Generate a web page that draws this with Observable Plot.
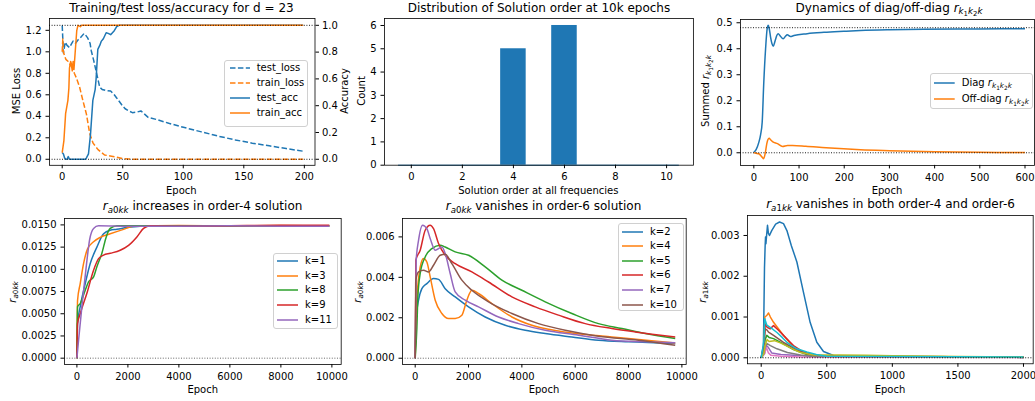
<!DOCTYPE html>
<html><head><meta charset="utf-8">
<script src="https://cdn.jsdelivr.net/npm/d3@7"></script>
<script src="https://cdn.jsdelivr.net/npm/@observablehq/plot@0.6"></script>
<style>
html,body{margin:0;padding:0;background:#fff;}
#fig{position:relative;width:1035px;height:401px;overflow:hidden;font-family:"DejaVu Sans",sans-serif;color:#000;background:#fff;}
#fig svg{position:absolute;overflow:visible;}
.t{position:absolute;line-height:1;white-space:nowrap;}
sub{font-size:0.72em;vertical-align:-0.3em;line-height:0;}
sub sub{font-size:0.8em;}
.leg{position:absolute;border:1px solid #d0d0d0;border-radius:3px;background:rgba(255,255,255,0.8);box-sizing:border-box;}
</style></head><body><div id="fig"></div><script>
// ---------- data ----------
// Panel 1: loss / accuracy vs epoch (d = 23)
const testLoss = [[0,1.245],[1,0.99],[2.5,1.09],[4,1.06],[6,1.04],[8,1.08],[9,1.1],[11,1.08],[13,1.11],[15,1.13],[18,1.17],[19,1.16],[21,1.13],[23,1.08],[24,1.01],[26,0.92],[28,0.82],[30,0.72],[31,0.67],[33,0.65],[36,0.64],[40,0.635],[43,0.6],[45,0.57],[49,0.51],[52,0.47],[55,0.45],[58,0.434],[62,0.44],[65,0.45],[68,0.42],[71,0.39],[78,0.37],[88,0.335],[101,0.295],[115,0.255],[129,0.215],[143,0.18],[157,0.15],[171,0.125],[185,0.1],[199,0.075]];
const trainLoss = [[0,1.0],[0.5,1.12],[1,1.0],[2,0.96],[3,0.93],[5,0.91],[7,0.87],[8,0.9],[9,0.84],[10,0.8],[11.6,0.76],[14.4,0.67],[17,0.55],[20,0.42],[22.7,0.24],[25.5,0.15],[29.6,0.09],[35,0.04],[40.7,0.028],[45,0.02],[50,0.006],[55,0.002],[60,0.001],[199,0]];
const testAcc = [[0,0.05],[1,0.04],[2,0.01],[3,0],[4,0],[5,0.02],[6,0],[19,0],[20,0.01],[21.7,0.04],[23.4,0.19],[25.3,0.44],[27.2,0.52],[28,0.6],[29.4,0.82],[31,0.85],[32.2,0.88],[34,0.9],[36.3,0.945],[38,0.94],[40,0.93],[43,0.96],[45,0.99],[47,1.0],[199,1.0]];
const trainAcc = [[0,0.05],[1.4,0.14],[2.8,0.34],[4.7,0.44],[5.5,0.53],[6,0.68],[7,0.73],[7.5,0.71],[8.3,0.66],[9,0.73],[9.7,0.67],[10.8,0.81],[12,0.96],[13,1.0],[15,0.99],[16,1.0],[199,1.0]];
// Panel 2: histogram of solution order
const orders = [0,1,2,3,4,5,6,7,8,9,10];
const counts = [0,0,0,0,5,0,6,0,0,0,0];
// Panel 3: summed r_{k1k2k}
const diagR = [[0,0.002],[5,0.012],[11,0.04],[15,0.07],[18.5,0.118],[22,0.27],[26,0.4],[29.5,0.477],[31.9,0.49],[34,0.478],[37,0.445],[40,0.42],[43,0.41],[47,0.43],[51,0.452],[54,0.458],[58,0.45],[65,0.438],[70,0.448],[74,0.454],[81,0.447],[88.6,0.451],[118,0.458],[155,0.463],[199,0.467],[236,0.47],[300,0.473],[376,0.475],[500,0.476],[600,0.477]];
const offDiagR = [[0,0],[5,-0.002],[11,-0.004],[18.5,-0.017],[21.5,-0.023],[25,-0.004],[28.7,0.035],[31,0.05],[33.9,0.056],[37,0.05],[41.3,0.043],[52.4,0.035],[63.5,0.024],[74.6,0.028],[85.6,0.028],[115,0.025],[160,0.019],[236,0.0115],[300,0.008],[400,0.004],[500,0.002],[600,0.001]];
// Panel 4: r_a0kk (x1e-3) in order-4 solution
const a0k1 = [[0,0],[26,3.9],[130,5.8],[327,8.4],[523,10.65],[784,12.5],[1046,14.0],[1307,14.4],[1569,14.5],[1961,14.7],[2484,14.85],[4000,14.9],[6000,14.88],[8000,14.9],[9900,14.85]];
const a0k3 = [[0,0],[26,6.5],[130,8.4],[261,10.65],[418,12.3],[654,13.1],[915,13.6],[1307,14.0],[1830,14.5],[2222,14.85],[4000,14.92],[6000,14.9],[8000,14.92],[9900,14.88]];
const a0k8 = [[0,0],[26,5.8],[130,6.15],[327,7.65],[458,8.6],[654,9.15],[784,10.3],[980,11.8],[1150,13.65],[1307,14.6],[1569,14.9],[4000,14.88],[6000,14.9],[8000,14.88],[9900,14.9]];
const a0k9 = [[0,0],[26,3.9],[130,5.0],[392,7.3],[654,9.9],[850,11.2],[1046,11.6],[1307,11.8],[1699,12.15],[2026,12.7],[2353,13.65],[2614,14.6],[2876,14.9],[4000,14.85],[6000,14.9],[8000,14.95],[9900,14.95]];
const a0k11 = [[0,0],[65,2.0],[196,5.8],[366,10.3],[497,13.3],[654,14.6],[850,14.9],[2000,14.85],[4000,14.85],[6000,14.9],[8000,14.85],[9900,14.85]];
// Panel 5: r_a0kk (x1e-3) in order-6 solution
const b0k2 = [[0,0],[37,2.04],[125,2.87],[250,3.44],[437,3.69],[687,3.94],[875,3.9],[1125,3.44],[1500,3.03],[2000,2.54],[2625,2.04],[3375,1.63],[4125,1.38],[4875,1.22],[5875,1.05],[6875,0.89],[8000,0.81],[9750,0.73]];
const b0k4 = [[0,0],[62,2.87],[187,4.5],[312,4.93],[437,4.76],[562,4.02],[750,2.87],[1000,2.21],[1250,1.96],[1500,1.96],[1750,2.13],[1937,2.87],[2125,3.36],[2375,3.2],[2875,2.7],[3625,2.04],[4375,1.63],[5375,1.35],[6375,1.17],[7375,1.05],[8375,0.92],[9750,0.75]];
const b0k5 = [[0,0],[62,1.47],[100,3.03],[187,4.19],[375,5.01],[625,5.42],[937,5.59],[1125,5.5],[1500,5.26],[2000,5.09],[2625,4.52],[3250,3.86],[4000,3.36],[4875,2.79],[5875,2.21],[6875,1.71],[7750,1.47],[8625,1.22],[9750,0.97]];
const b0k6 = [[0,0],[25,4.85],[187,5.34],[375,6.33],[562,6.58],[687,6.41],[875,5.67],[1125,5.09],[1500,4.68],[2125,4.27],[2750,3.77],[3625,3.03],[4500,2.54],[5375,2.13],[6375,1.71],[7375,1.47],[8250,1.3],[9750,1.05]];
const b0k7 = [[0,0],[37,4.85],[125,5.83],[275,6.58],[437,6.41],[562,5.92],[750,5.34],[1000,5.5],[1125,5.18],[1312,4.19],[1500,3.28],[1875,2.87],[2375,2.54],[3125,2.04],[3875,1.71],[4875,1.38],[6125,1.14],[7375,0.89],[8625,0.81],[9750,0.76]];
const b0k10 = [[0,0],[25,3.86],[125,4.27],[312,4.35],[500,4.27],[687,4.6],[937,5.09],[1125,5.14],[1375,4.68],[1750,3.86],[2125,3.36],[2750,2.79],[3625,2.21],[4625,1.71],[5625,1.38],[6875,1.09],[8375,0.89],[9750,0.64]];
// Panel 6: r_a1kk (x1e-3)
const c1 = [[0,0.02],[17,0.3],[25,2.2],[30,2.75],[33,2.96],[36,2.8],[40,2.96],[48,3.25],[55,3.05],[63,3.0],[80,3.12],[110,3.28],[140,3.33],[170,3.29],[196,3.12],[230,2.75],[272,2.35],[322,1.61],[373,0.87],[424,0.38],[475,0.155],[551,0.056],[600,0.02],[1000,0.016],[2000,0.016]];
const c2 = [[0,0],[20,0.2],[28,1.0],[35,1.02],[45,1.05],[56,1.1],[70,1.0],[94,0.87],[130,0.72],[170,0.55],[210,0.4],[246,0.26],[280,0.18],[322,0.13],[398,0.07],[500,0.04],[700,0.04],[1000,0.03],[2000,0.02]];
const c3 = [[0,0],[20,0.15],[30,0.45],[43,0.55],[60,0.5],[94,0.47],[170,0.34],[246,0.2],[348,0.08],[450,0.03],[2000,0.01]];
const c4 = [[0,0],[20,0.3],[30,0.83],[45,0.75],[69,0.71],[94,0.79],[130,0.68],[170,0.55],[210,0.42],[246,0.3],[322,0.14],[400,0.06],[500,0.03],[2000,0.02]];
const c5 = [[0,0],[25,0.1],[40,0.3],[55,0.25],[80,0.12],[150,0.08],[250,0.06],[400,0.03],[2000,0.01]];
const c6 = [[0,0],[20,0.2],[30,0.71],[45,0.68],[56,0.63],[94,0.55],[170,0.38],[246,0.24],[322,0.12],[400,0.05],[2000,0.015]];
const c7 = [[0,0],[25,0.1],[40,0.25],[55,0.12],[75,0.06],[150,0.04],[300,0.02],[2000,0.005]];
const c8 = [[0,0],[20,0.1],[30,0.3],[45,0.35],[70,0.3],[120,0.22],[200,0.13],[300,0.07],[400,0.03],[2000,0.01]];
const c9 = [[0,0],[20,0.1],[30,0.3],[45,0.45],[60,0.4],[100,0.42],[150,0.36],[200,0.28],[250,0.2],[300,0.13],[400,0.07],[600,0.07],[800,0.06],[1000,0.05],[1500,0.03],[2000,0.02]];
const c10 = [[0,0],[20,0.4],[27,0.96],[43,0.8],[80,0.72],[120,0.62],[160,0.5],[196,0.38],[230,0.3],[272,0.22],[348,0.14],[420,0.08],[500,0.04],[2000,0.02]];

// ---------- drawing ----------
const fig = document.getElementById("fig");
const C = {blue:"#1f77b4",orange:"#ff7f0e",green:"#2ca02c",red:"#d62728",purple:"#9467bd",brown:"#8c564b",pink:"#e377c2",gray:"#7f7f7f",olive:"#bcbd22",cyan:"#17becf"};
const STYLE = {fontFamily:'"DejaVu Sans", sans-serif', fontSize:"10px", color:"#000", background:"transparent", overflow:"visible"};
const AX = {tickSize:3.5, tickPadding:4.5, label:null};
const XF = d => String(d);
const DASH = "5.5,2.4";
const ACC = 1.2465; // accuracy -> loss-axis factor

function panel(frame, xd, yd, marks){
  const [fl,ft,fr,fb] = frame;
  const ml=60, mr=45, mt=8, mb=36;
  const svg = Plot.plot({width: fr-fl+ml+mr, height: fb-ft+mt+mb, marginLeft:ml, marginRight:mr, marginTop:mt, marginBottom:mb,
    x:{domain:xd, nice:false}, y:{domain:yd, nice:false}, style:STYLE, marks});
  svg.style.left = (fl-ml)+"px"; svg.style.top = (ft-mt)+"px";
  fig.append(svg);
}
const line = (data, color, o={}) => Plot.line(data, {x:d=>d[0], y:d=>d[1]*(o.k??1), stroke:color, strokeWidth:1.5, clip:true,
  curve:o.curve??"linear", strokeDasharray:o.dash, strokeLinejoin:"round", strokeLinecap:"butt"});
const dotted = (vals, color="#000") => Plot.ruleY(vals, {stroke:color, strokeWidth:0.9, strokeDasharray:"1,1.6"});
const frameM = () => Plot.frame({stroke:"#000", strokeWidth:0.8});

function text(html, cx, cy, size=10, rot=0){
  const d = document.createElement("div"); d.className="t"; d.innerHTML=html;
  d.style.left=cx+"px"; d.style.top=cy+"px"; d.style.fontSize=size+"px";
  d.style.transform=`translate(-50%,-50%) rotate(${rot}deg)`;
  fig.append(d);
}
function legend(box, rows, sx, tx, items){
  const d = document.createElement("div"); d.className="leg";
  Object.assign(d.style,{left:box[0]+"px",top:box[1]+"px",width:(box[2]-box[0])+"px",height:(box[3]-box[1])+"px"});
  fig.append(d);
  items.forEach(([label,color,dash],i)=>{
    const y=rows[i];
    const s=document.createElementNS("http://www.w3.org/2000/svg","svg");
    s.setAttribute("width",sx[1]-sx[0]); s.setAttribute("height",6);
    s.style.left=sx[0]+"px"; s.style.top=(y-3)+"px";
    s.innerHTML=`<line x1="0" x2="${sx[1]-sx[0]}" y1="3" y2="3" stroke="${color}" stroke-width="1.5" ${dash?`stroke-dasharray="${dash}"`:""}/>`;
    fig.append(s);
    const t=document.createElement("div"); t.className="t"; t.innerHTML=label;
    t.style.left=tx+"px"; t.style.top=y+"px"; t.style.fontSize="10px"; t.style.transform="translateY(-50%)";
    fig.append(t);
  });
}
const R = (sub) => `<i>r</i><sub>${sub}</sub>`;
const RK = R(`<i>k</i><sub>1</sub><i>k</i><sub>2</sub><i>k</i>`);

// Panel 1
panel([48.5,17.5,314,164.3],[-10.5,208.8],[-0.056,1.31],[
  line(testLoss,C.blue,{dash:DASH}), line(trainLoss,C.orange,{dash:DASH}),
  line(testAcc,C.blue,{k:ACC}), line(trainAcc,C.orange,{k:ACC}),
  dotted([ACC,0]),
  Plot.axisX([0,50,100,150,200],{...AX, tickFormat:XF}),
  Plot.axisY([0,0.2,0.4,0.6,0.8,1.0,1.2],{...AX, tickFormat:d=>d.toFixed(1)}),
  Plot.axisY([0,0.2,0.4,0.6,0.8,1.0].map(a=>a*ACC),{...AX, anchor:"right", tickPadding:3.5, tickFormat:d=>(d/ACC).toFixed(1)}),
  frameM()
]);
// Panel 2
const bars = orders.map((o,i)=>({o, c:counts[i]}));
panel([383.9,18,692.8,164.7],[-1.05,11.05],[0,6.3],[
  Plot.rect(bars,{x1:d=>d.o-0.5, x2:d=>d.o+0.5, y1:0, y2:d=>d.c, fill:C.blue}),
  Plot.ruleY([0],{x1:-0.5,x2:10.5,stroke:C.blue,strokeWidth:1}),
  Plot.axisX([0,2,4,6,8,10],{...AX, tickFormat:XF}),
  Plot.axisY([0,1,2,3,4,5,6],{...AX, tickFormat:XF}),
  frameM()
]);
// Panel 3
panel([740,19,1034,164.9],[-29.5,621],[-0.0485,0.5125],[
  line(diagR,C.blue,{curve:"monotone-x"}), line(offDiagR,C.orange,{curve:"monotone-x"}),
  dotted([0.481,0]),
  Plot.axisX([0,100,200,300,400,500,600],{...AX, tickFormat:XF}),
  Plot.axisY([0,0.1,0.2,0.3,0.4,0.5],{...AX, tickFormat:d=>d.toFixed(1)}),
  frameM()
]);
// Panel 4
const a0Series = [[a0k1,C.blue],[a0k3,C.orange],[a0k8,C.green],[a0k9,C.red],[a0k11,C.purple]];
panel([64.3,218.3,341,364.3],[-486,10365],[-0.00071,0.01572],[
  ...a0Series.map(([s,c])=>line(s,c,{k:0.001,curve:"monotone-x"})),
  dotted([0],"#555"),
  Plot.axisX([0,2000,4000,6000,8000,10000],{...AX, tickFormat:XF}),
  Plot.axisY([0,0.0025,0.005,0.0075,0.01,0.0125,0.015],{...AX, tickFormat:d=>d.toFixed(4)}),
  frameM()
]);
// Panel 5
const b0Series = [[b0k2,C.blue],[b0k4,C.orange],[b0k5,C.green],[b0k6,C.red],[b0k7,C.purple],[b0k10,C.brown]];
panel([402.3,218.3,686,364.3],[-476,10161],[-0.00031,0.00691],[
  ...b0Series.map(([s,c])=>line(s,c,{k:0.001,curve:"monotone-x"})),
  dotted([0],"#555"),
  Plot.axisX([0,2000,4000,6000,8000,10000],{...AX, tickFormat:XF}),
  Plot.axisY([0,0.002,0.004,0.006],{...AX, tickFormat:d=>d.toFixed(3)}),
  frameM()
]);
// Panel 6
const c1Series = [[c1,C.blue],[c2,C.orange],[c3,C.green],[c4,C.red],[c5,C.purple],[c6,C.brown],[c7,C.pink],[c8,C.gray],[c9,C.olive],[c10,C.cyan]];
panel([747.3,215,1033,363.3],[-104.5,2074],[-0.000147,0.00349],[
  ...c1Series.map(([s,c])=>line(s,c,{k:0.001})),
  dotted([0]),
  Plot.axisX([0,500,1000,1500,2000],{...AX, tickFormat:XF}),
  Plot.axisY([0,0.001,0.002,0.003],{...AX, tickFormat:d=>d.toFixed(3)}),
  frameM()
]);

// titles
text("Training/test loss/accuracy for d = 23",181.5,7.9,12);
text("Distribution of Solution order at 10k epochs",539,7.9,12);
text("Dynamics of diag/off-diag "+RK,889,7.9,12);
text(R("<i>a</i>0<i>kk</i>")+" increases in order-4 solution",202.6,205.9,12);
text(R("<i>a</i>0<i>kk</i>")+" vanishes in order-6 solution",543.5,205.9,12);
text(R("<i>a</i>1<i>kk</i>")+" vanishes in both order-4 and order-6",890.5,204.4,12);
// x labels
text("Epoch",181.3,190.5); text("Solution order at all frequencies",538.3,190.5); text("Epoch",887,190.5);
text("Epoch",202.7,390.3); text("Epoch",544,390.3); text("Epoch",890,390.3);
// y labels
text("MSE Loss",17,91,10,-90); text("Accuracy",345.3,91,10,-90); text("Count",361.7,91.3,10,-90);
text("Summed "+RK,706,91,10,-90);
text(R("<i>a</i>0<i>kk</i>"),13.3,292,10,-90); text(R("<i>a</i>0<i>kk</i>"),358.3,292,10,-90); text(R("<i>a</i>1<i>kk</i>"),703.3,292,10,-90);
// legends
legend([224.3,60,308.3,126.7],[68.3,82.7,98.3,112.7],[230,250],256.7,
  [["test_loss",C.blue,DASH],["train_loss",C.orange,DASH],["test_acc",C.blue],["train_acc",C.orange]]);
legend([930,73.3,1033,109.3],[82.7,99],[934.3,955],961.7,[["Diag "+RK,C.blue],["Off-diag "+RK,C.orange]]);
legend([273.3,252.7,338.3,329.3],[261,275.7,290.3,305,319.7],[276.7,297.7],305,
  [["k=1",C.blue],["k=3",C.orange],["k=8",C.green],["k=9",C.red],["k=11",C.purple]]);
legend([617.7,223.3,684,311],[231.7,246,261,275.3,290,305],[621.7,642.7],650,
  [["k=2",C.blue],["k=4",C.orange],["k=5",C.green],["k=6",C.red],["k=7",C.purple],["k=10",C.brown]]);
</script></body></html>
